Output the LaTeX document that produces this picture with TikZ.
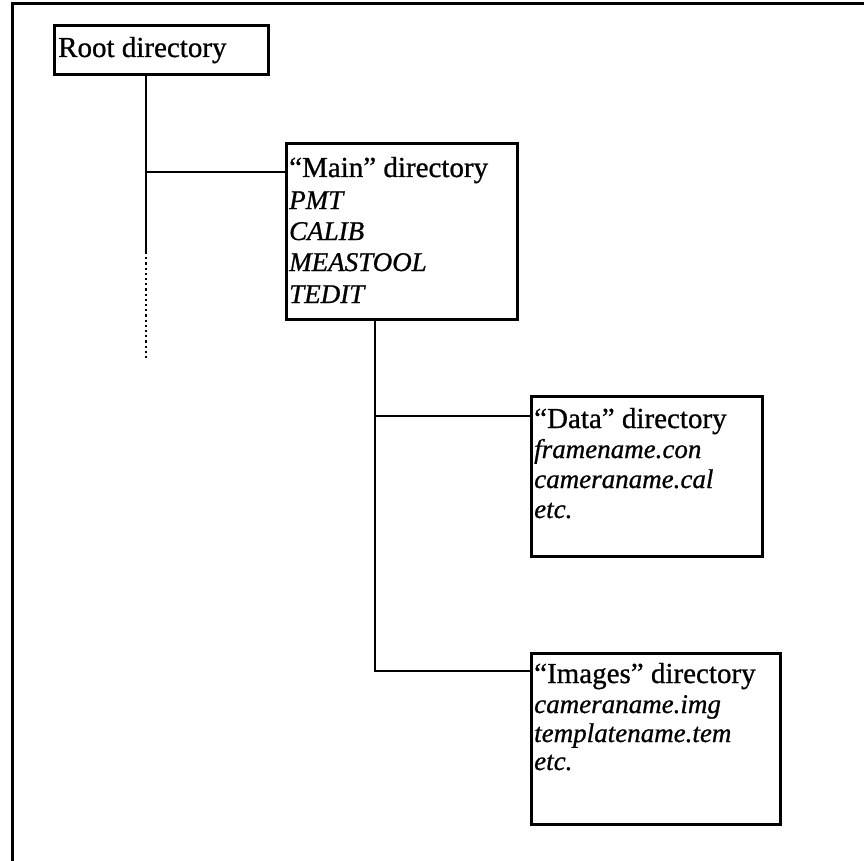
\documentclass[tikz,border=0pt]{standalone}
\usepackage{fontspec}
\setmainfont{Liberation Serif}
\newfontfamily\scanfont{Liberation Serif}[FakeBold=0.8]
\begin{document}
\begin{tikzpicture}[x=1pt,y=-1pt,
  box/.style={draw, line width=2.6pt, inner sep=0pt, anchor=north west},
  up/.style={anchor=base west, inner sep=0pt, font=\scanfont\fontsize{29}{31}\selectfont},
  it/.style={anchor=base west, inner sep=0pt, font=\scanfont\fontsize{27}{30}\selectfont\itshape},
  conn/.style={line width=2.4pt},
  dotconn/.style={line width=2.4pt, dash pattern=on 2.2pt off 3pt}]
\clip (0,0) rectangle (864,861);
\fill[white] (0,0) rectangle (864,861);
\draw[line width=3pt] (12,4) rectangle (900,900);

% boxes
\node[box, minimum width=214pt, minimum height=49pt] (root) at (53,24) {};
\node[box, minimum width=231pt, minimum height=176pt] (main) at (285,142) {};
\node[box, minimum width=231pt, minimum height=160pt] (data) at (530,395) {};
\node[box, minimum width=249pt, minimum height=171pt] (images) at (530,652) {};

% texts
\node[up] (roottext) at (58,57) {Root directory};

\node[up] (m1) at (289,177) {“Main” directory};
\node[it] (m2) at (289,209) {PMT};
\node[it] (m3) at (289,240) {CALIB};
\node[it] (m4) at (289,271) {MEASTOOL};
\node[it] (m5) at (289,303) {TEDIT};

\node[up] (d1) at (534,428) {“Data” directory};
\node[it] (d2) at (534,458) {framename.con};
\node[it] (d3) at (534,488) {cameraname.cal};
\node[it] (d4) at (534,518) {etc.};

\node[up] (i1) at (534,683) {“Images” directory};
\node[it] (i2) at (534,713) {cameraname.img};
\node[it] (i3) at (534,742) {templatename.tem};
\node[it] (i4) at (534,770) {etc.};

% connectors
\coordinate (rj) at (146,172);
\coordinate (rend) at (146,252);
\coordinate (rdots) at (146,360);
\draw[conn] (rj |- root.south) -- (rend);
\draw[dotconn] (rend) -- (rdots);
\draw[conn] (rj) -- (rj -| main.west);

\coordinate (mj1) at (375,416);
\coordinate (mj2) at (375,671);
\draw[conn] (mj1 |- main.south) -- (mj2) -- (mj2 -| images.west);
\draw[conn] (mj1) -- (mj1 -| data.west);
\end{tikzpicture}
\end{document}
